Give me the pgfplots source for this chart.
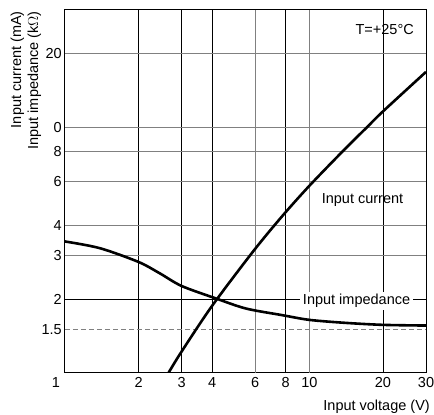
\documentclass[border=0pt]{standalone}
\usepackage{pgfplots}
\pgfplotsset{compat=1.18}
\usepackage{fontspec}
\setmainfont{Liberation Sans}
\definecolor{gridgray}{gray}{0.5}
\begin{document}
\begin{tikzpicture}[font=\fontsize{14.5}{17}\selectfont]
\begin{axis}[
  name=ax, xmode=log, ymode=log,
  scale only axis, width=361pt, height=363pt,
  xmin=1, xmax=30, ymin=1, ymax=30,
  xtick={2,3,4,6,8,10,20,30}, xticklabels={2,3,4,6,8,10,20,30},
  ytick={1.5,2,3,4,6,8,10,20}, yticklabels={1.5,2,3,4,6,8,0,20},
  minor xtick={}, minor ytick={},
  major tick length=0pt, tick style={draw=none},
  axis line style={line width=1pt},
  /pgf/number format/assume math mode=true,
  xticklabel style={anchor=north, inner sep=0pt, yshift=-4pt},
  yticklabel style={anchor=east, inner sep=0pt, xshift=-3pt},
  ticklabel style={font=\fontsize{14.5}{17}\selectfont},
]
\pgfplotsinvokeforeach{6,10}{\draw[gridgray, line width=0.9pt] (axis cs:#1,1) -- (axis cs:#1,30);}
\pgfplotsinvokeforeach{2,3,4,8,20}{\draw[black, line width=0.6pt] (axis cs:#1,1) -- (axis cs:#1,30);}
\pgfplotsinvokeforeach{3,4,6,8,10,20}{\draw[gridgray, line width=0.9pt] (axis cs:1,#1) -- (axis cs:30,#1);}
\draw[black, line width=0.6pt] (axis cs:1,2) -- (axis cs:30,2);
\draw[gridgray, line width=0.8pt, dash pattern=on 5pt off 3pt] (axis cs:1,1.5) -- (axis cs:30,1.5);

% Input current
\addplot[black, line width=2.6pt, smooth] coordinates {
(2.65,1.0) (2.98,1.21) (3.99,1.87) (5.88,3.12) (7.73,4.34)
(10,5.78) (13.8,8.05) (17.2,10.0) (20.0,11.6) (30,16.8)};
% Input impedance
\addplot[black, line width=2.6pt, smooth] coordinates {
(1,3.43) (1.39,3.22) (2.0,2.83) (2.45,2.54) (3.0,2.26) (4.15,2.01)
(5.5,1.83) (7.73,1.72) (10,1.645) (14,1.60) (20,1.57) (30,1.56)};

\node at (axis cs:16.5,5.05) {Input current};
\node[fill=white, inner xsep=3pt, inner ysep=2pt] at (axis cs:15.6,1.96) {Input impedance};
\end{axis}
\node[anchor=east, inner sep=0pt] at ([xshift=-12pt,yshift=-20pt]ax.north east) {T=+25°C};
\node[anchor=east, inner sep=0pt] at ([xshift=4pt,yshift=-33.7pt]ax.south east) {Input voltage (V)};
\node[anchor=north, inner sep=0pt] at ([xshift=-9pt,yshift=-4pt]ax.south west) {1};
\node[rotate=90, anchor=east, align=right, inner sep=0pt] at ([xshift=-39pt,yshift=-1pt]ax.north west) {Input current (mA)\\Input impedance (k$\Omega$)};
\pgfresetboundingbox
\path ([shift={(-65pt,-42pt)}]ax.south west) rectangle ([shift={(8pt,10pt)}]ax.north east);
\end{tikzpicture}
\end{document}
